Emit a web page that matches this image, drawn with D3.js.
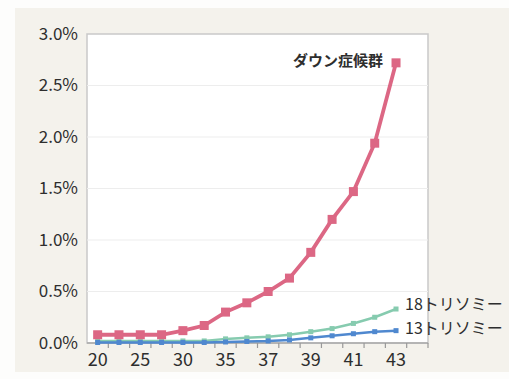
<!DOCTYPE html>
<html>
<head>
  <meta charset="utf-8">
  <script src="https://d3js.org/d3.v7.min.js"></script>
  <style>
    body { margin: 0; background: #fdfdfc; }
    svg { display: block; }
  </style>
</head>
<body>
  <div id="container"></div>
  <script>
    // ages (only every other one gets a label)
    var ages = ['20','22','25','27','30','32','35','36','37','38','39','40','41','42','43'];
    var down = [0.08,0.08,0.08,0.08,0.12,0.17,0.30,0.39,0.50,0.63,0.88,1.20,1.47,1.94,2.72];
    var tri18 = [0.02,0.02,0.02,0.02,0.02,0.02,0.04,0.05,0.06,0.08,0.11,0.14,0.19,0.25,0.33];
    var tri13 = [0.005,0.005,0.005,0.005,0.005,0.005,0.01,0.015,0.02,0.03,0.05,0.07,0.09,0.11,0.12];
    var yTicks = [0, 0.5, 1.0, 1.5, 2.0, 2.5, 3.0];

    var series = [
      {name: '18トリソミー', values: tri18, colour: '#86cbaf', size: 5, width: 2.5},
      {name: '13トリソミー', values: tri13, colour: '#4f88cf', size: 5, width: 2.5},
      {name: 'ダウン症候群', values: down, colour: '#dc6784', size: 9, width: 3.8}
    ];

    var W = 509, H = 379;
    var margin = {top: 34, left: 87};
    var plotW = 341, plotH = 309;

    var svg = d3.select('#container').append('svg')
      .attr('width', W)
      .attr('height', H);

    // beige page behind the chart
    svg.append('rect')
      .attr('x', 15).attr('y', 8)
      .attr('width', W - 15).attr('height', 364)
      .attr('fill', '#f4f2ec');

    var gp = svg.append('g').attr('transform', `translate(${margin.left},${margin.top})`);

    // one empty band on the right after 43
    var x = d3.scaleBand()
      .domain(ages.concat(['']))
      .range([0, plotW]);
    var y = d3.scaleLinear()
      .domain([0, 3.0])
      .range([plotH, 0]);

    gp.append('rect')
      .attr('width', plotW)
      .attr('height', plotH)
      .attr('fill', '#fff')
      .attr('stroke', '#c9c9c9')
      .attr('stroke-width', 1.5);

    gp.selectAll('.grid')
      .data(yTicks.slice(1, -1))
      .enter()
      .append('line')
        .attr('class', 'grid')
        .attr('x1', 0).attr('x2', plotW)
        .attr('y1', d => y(d)).attr('y2', d => y(d))
        .attr('stroke', '#ededed')
        .attr('stroke-width', 1.2);

    var yAxis = gp.append('g')
      .call(d3.axisLeft(y).tickValues(yTicks).tickSize(0).tickPadding(9).tickFormat(d => d.toFixed(1) + '%'));
    yAxis.select('.domain').remove();
    yAxis.selectAll('text')
      .style('font', '17px "Noto Sans CJK JP", "Noto Sans", sans-serif')
      .attr('fill', '#2e2e2e');

    // category boundaries as ticks on the bottom axis
    var xAxis = gp.append('g')
      .attr('transform', `translate(0,${plotH})`);
    xAxis.append('line')
      .attr('x1', 0).attr('x2', plotW)
      .attr('stroke', '#aaa')
      .attr('stroke-width', 1.5);
    xAxis.selectAll('.xt')
      .data(x.domain())
      .enter()
      .append('line')
        .attr('class', 'xt')
        .attr('x1', d => x(d) + x.bandwidth()).attr('x2', d => x(d) + x.bandwidth())
        .attr('y1', 0).attr('y2', 5)
        .attr('stroke', '#999')
        .attr('stroke-width', 1.2);
    xAxis.selectAll('.xl')
      .data(ages.filter((d, i) => i % 2 == 0))
      .enter()
      .append('text')
        .attr('class', 'xl')
        .attr('x', d => x(d) + x.bandwidth() / 2)
        .attr('y', 23)
        .attr('text-anchor', 'middle')
        .style('font', '18px "Noto Sans CJK JP", "Noto Sans", sans-serif')
        .attr('fill', '#2e2e2e')
        .text(d => d);

    var line = d3.line()
      .x((d, i) => x(ages[i]) + x.bandwidth() / 2)
      .y(d => y(d));

    series.forEach(function (s) {
      var g = gp.append('g');
      g.append('path')
        .attr('d', line(s.values))
        .attr('fill', 'none')
        .attr('stroke', s.colour)
        .attr('stroke-width', s.width);
      g.selectAll('rect')
        .data(s.values)
        .enter()
        .append('rect')
          .attr('x', (d, i) => x(ages[i]) + x.bandwidth() / 2 - s.size / 2)
          .attr('y', d => y(d) - s.size / 2)
          .attr('width', s.size)
          .attr('height', s.size)
          .attr('fill', s.colour);
    });

    // series labels
    var last = ages.length - 1;
    var lx = x(ages[last]) + x.bandwidth() / 2;
    gp.append('text')
      .attr('x', lx - 13)
      .attr('y', y(down[last]) - 1)
      .attr('text-anchor', 'end')
      .attr('dominant-baseline', 'middle')
      .style('font', 'bold 15px "Noto Sans CJK JP", sans-serif')
      .attr('fill', '#2e2e2e')
      .text('ダウン症候群');
    gp.append('text')
      .attr('x', lx + 9)
      .attr('y', y(tri18[last]) - 3)
      .attr('dominant-baseline', 'middle')
      .style('font', '16px "Noto Sans CJK JP", sans-serif')
      .attr('fill', '#2e2e2e')
      .text('18トリソミー');
    gp.append('text')
      .attr('x', lx + 9)
      .attr('y', y(tri13[last]) - 1)
      .attr('dominant-baseline', 'middle')
      .style('font', '16px "Noto Sans CJK JP", sans-serif')
      .attr('fill', '#2e2e2e')
      .text('13トリソミー');
  </script>
</body>
</html>
